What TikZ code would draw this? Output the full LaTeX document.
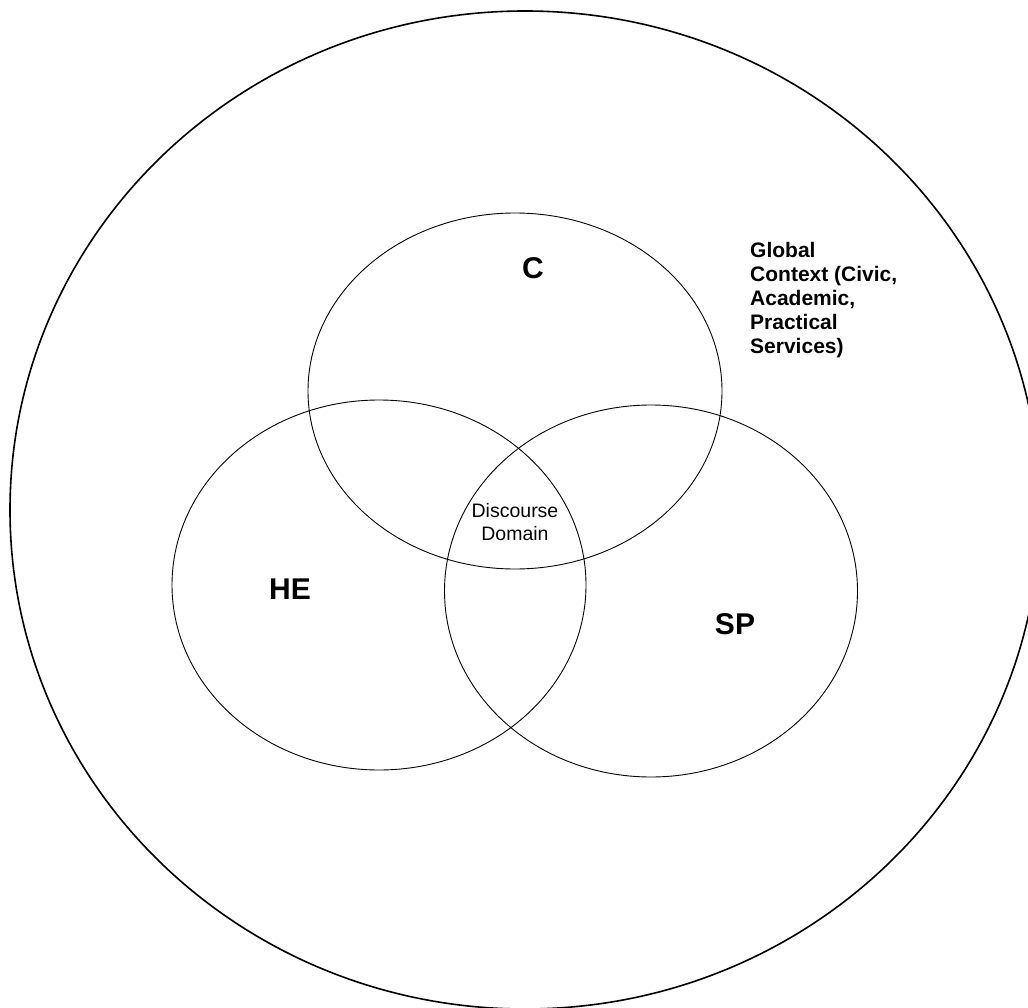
\documentclass[tikz,border=0pt]{standalone}
\usepackage{fontspec}
\setmainfont{Liberation Sans}
\usetikzlibrary{shapes.geometric}
\begin{document}
\begin{tikzpicture}[x=1pt,y=-1pt,
  outerring/.style={ellipse, draw, line width=1.6pt, inner sep=0pt, outer sep=0pt},
  venncircle/.style={ellipse, draw, line width=0.9pt, inner sep=0pt, outer sep=0pt},
  biglabel/.style={font=\bfseries\fontsize{30}{36}\selectfont, inner sep=0pt},
  smalllabel/.style={font=\fontsize{19.5}{23}\selectfont, align=center, inner sep=0pt, anchor=north},
  contextlabel/.style={font=\bfseries\fontsize{21}{24}\selectfont, align=left, inner sep=0pt, anchor=north west}]
  \useasboundingbox (0,0) rectangle (1028,1008);
  \clip (0,0) rectangle (1028,1008);
  % global context ring
  \node[outerring, minimum width=1030pt, minimum height=998pt] (global) at (525,510) {};
  % three overlapping domains
  \node[venncircle, minimum width=414pt, minimum height=356pt] (civic) at (515,391) {};
  \node[venncircle, minimum width=414pt, minimum height=370pt] (he) at (379,585) {};
  \node[venncircle, minimum width=413pt, minimum height=372pt] (sp) at (651,591) {};
  % labels
  \node[biglabel] (lc) at (533,268) {C};
  \node[biglabel] (lhe) at (290,589) {HE};
  \node[biglabel] (lsp) at (735,624) {SP};
  \node[smalllabel] (ldd) at (515,503) {Discourse\\Domain};
  \node[contextlabel] (lgc) at (750,242) {Global\\Context (Civic,\\Academic,\\Practical\\Services)};
\end{tikzpicture}
\end{document}
